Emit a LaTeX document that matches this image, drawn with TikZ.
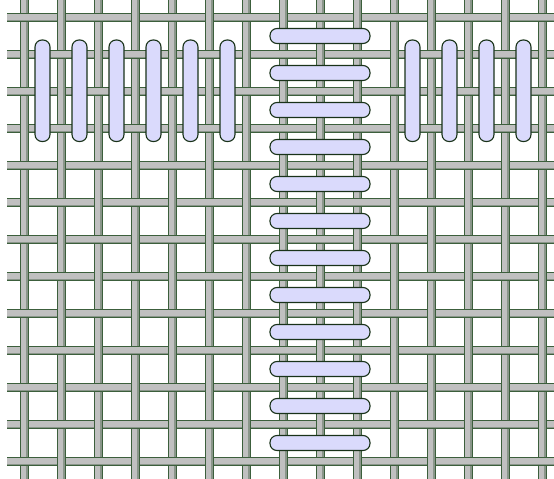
\documentclass[tikz,border=0pt]{standalone}
\definecolor{threadfill}{RGB}{192,192,192}
\definecolor{threadshadow}{RGB}{138,150,138}
\definecolor{threadedge}{RGB}{60,95,60}
\definecolor{stitchfill}{RGB}{218,218,252}
\definecolor{stitchedge}{RGB}{25,50,25}
\tikzset{
  threadbody/.style={fill=threadfill},
  threadshade/.style={fill=threadshadow},
  threadline/.style={draw=threadedge, line width=0.6pt},
  stitchshape/.style={fill=stitchfill, draw=stitchedge, line width=1.1pt, rounded corners=7pt}
}
\begin{document}
\begin{tikzpicture}[x=1pt,y=-1pt]
\useasboundingbox (0,0) rectangle (554,479);
\clip (0,0) rectangle (554,479);
% horizontal threads
\foreach \r in {0,...,12}{
  \pgfmathsetmacro\yy{17.5+37*\r}
  \fill[threadbody] (7,\yy-4) rectangle (560,\yy+4);
  \fill[threadshade] (7,\yy+2) rectangle (560,\yy+4);
  \draw[threadline] (7,\yy-4) -- (560,\yy-4) (7,\yy+4) -- (560,\yy+4);
}
% vertical threads
\foreach \c in {0,...,14}{
  \pgfmathsetmacro\xx{24+37*\c}
  \fill[threadbody] (\xx-4,-5) rectangle (\xx+4,485);
  \fill[threadshade] (\xx+2,-5) rectangle (\xx+4,485);
  \draw[threadline] (\xx-4,-5) -- (\xx-4,485) (\xx+4,-5) -- (\xx+4,485);
}
% horizontal threads passing over
\foreach \r in {0,...,12}{
  \foreach \c in {0,...,14}{
    \pgfmathtruncatemacro\s{\r+\c}
    \ifodd\s\else
      \pgfmathsetmacro\yy{17.5+37*\r}
      \pgfmathsetmacro\xx{24+37*\c}
      \fill[threadbody] (\xx-5.5,\yy-4) rectangle (\xx+5.5,\yy+4);
      \fill[threadshade] (\xx-5.5,\yy+2) rectangle (\xx+5.5,\yy+4);
      \draw[threadline] (\xx-5.5,\yy-4) -- (\xx+5.5,\yy-4) (\xx-5.5,\yy+4) -- (\xx+5.5,\yy+4);
    \fi
  }
}
% vertical stitches, left group
\foreach \k in {0,...,5}{
  \pgfmathsetmacro\xx{42.5+37*\k}
  \draw[stitchshape] (\xx-7.5,40) rectangle (\xx+7.5,141.5);
}
% vertical stitches, right group
\foreach \k in {0,...,3}{
  \pgfmathsetmacro\xx{412.5+37*\k}
  \draw[stitchshape] (\xx-7.5,40) rectangle (\xx+7.5,141.5);
}
% horizontal stitches, middle column
\foreach \k in {0,...,11}{
  \pgfmathsetmacro\yy{36+37*\k}
  \draw[stitchshape] (270,\yy-7.5) rectangle (370,\yy+7.5);
}
\end{tikzpicture}
\end{document}
